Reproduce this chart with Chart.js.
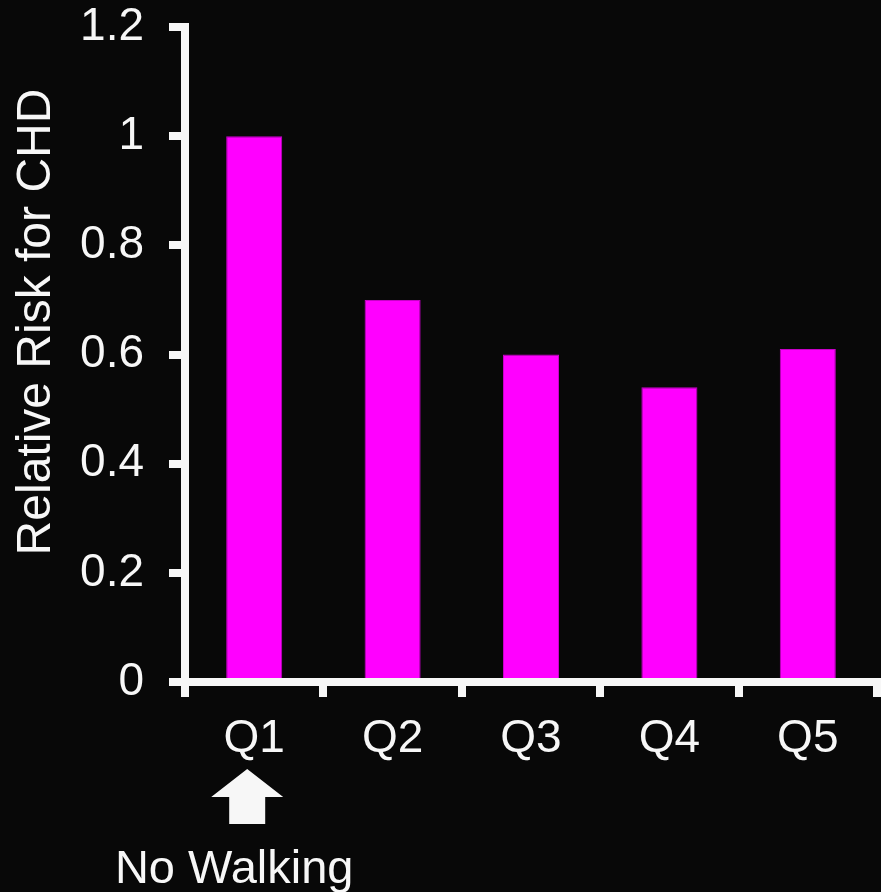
<!DOCTYPE html>
<html><head><meta charset="utf-8">
<script src="https://cdn.jsdelivr.net/npm/chart.js@4"></script>
<style>html,body{margin:0;padding:0;background:#080808;} canvas{display:block;}</style>
</head><body>
<canvas id="c" width="881" height="892"></canvas>
<script>
const categories = ['Q1', 'Q2', 'Q3', 'Q4', 'Q5'];
const relativeRisk = [1.0, 0.70, 0.60, 0.54, 0.61];
const yTickLabels = ['0', '0.2', '0.4', '0.6', '0.8', '1', '1.2'];
const yAxisTitle = 'Relative Risk for CHD';
const noteText = 'No Walking';
const noteCategoryIndex = 0;

const FONT = "'Liberation Sans', Arial, sans-serif";
const WHITE = '#f7f7f7';

const annotations = {
  id: 'annotations',
  afterDraw(chart) {
    const ctx = chart.ctx;
    const xs = chart.scales.x;
    const cx = xs.getPixelForValue(noteCategoryIndex) - 7;
    ctx.save();
    ctx.fillStyle = WHITE;
    ctx.beginPath();
    ctx.moveTo(cx, 769);
    ctx.lineTo(cx + 36, 797);
    ctx.lineTo(cx + 18, 797);
    ctx.lineTo(cx + 18, 824);
    ctx.lineTo(cx - 18, 824);
    ctx.lineTo(cx - 18, 797);
    ctx.lineTo(cx - 36, 797);
    ctx.closePath();
    ctx.fill();
    ctx.font = '47px ' + FONT;
    ctx.textAlign = 'center';
    ctx.textBaseline = 'alphabetic';
    ctx.fillText(noteText, cx - 13, 883);
    ctx.translate(50, 322);
    ctx.rotate(-Math.PI / 2);
    ctx.font = '48px ' + FONT;
    ctx.fillText(yAxisTitle, 0, 0);
    ctx.restore();
  }
};

new Chart(document.getElementById('c'), {
  type: 'bar',
  data: {
    labels: categories,
    datasets: [{
      data: relativeRisk,
      backgroundColor: '#ff00ff',
      borderColor: '#c800c8',
      borderWidth: 1,
      barPercentage: 0.405,
      categoryPercentage: 1
    }]
  },
  options: {
    responsive: false,
    animation: false,
    devicePixelRatio: 1,
    layout: { padding: { top: 27, right: 4, bottom: 0, left: 0 } },
    plugins: { legend: { display: false }, tooltip: { enabled: false } },
    scales: {
      x: {
        z: 1,
        afterFit(s) { s.height = 210; },
        grid: { display: true, drawOnChartArea: false, drawTicks: true, tickLength: 15, lineWidth: 8, color: WHITE, offset: true },
        border: { display: true, width: 8, color: WHITE },
        ticks: { color: WHITE, font: { family: FONT, size: 46, lineHeight: 1 }, padding: 19, maxRotation: 0, autoSkip: false }
      },
      y: {
        z: 1,
        min: 0,
        max: 1.2,
        afterFit(s) { s.width = 185; s.paddingTop = 0; s.paddingBottom = 0; },
        grid: { display: true, drawOnChartArea: false, drawTicks: true, tickLength: 16, lineWidth: 8, color: WHITE },
        border: { display: true, width: 8, color: WHITE },
        ticks: { stepSize: 0.2, color: WHITE, font: { family: FONT, size: 46, lineHeight: 0.02 }, padding: 25,
                 callback: (v, i) => yTickLabels[i] }
      }
    }
  },
  plugins: [annotations]
});
</script>
</body></html>
